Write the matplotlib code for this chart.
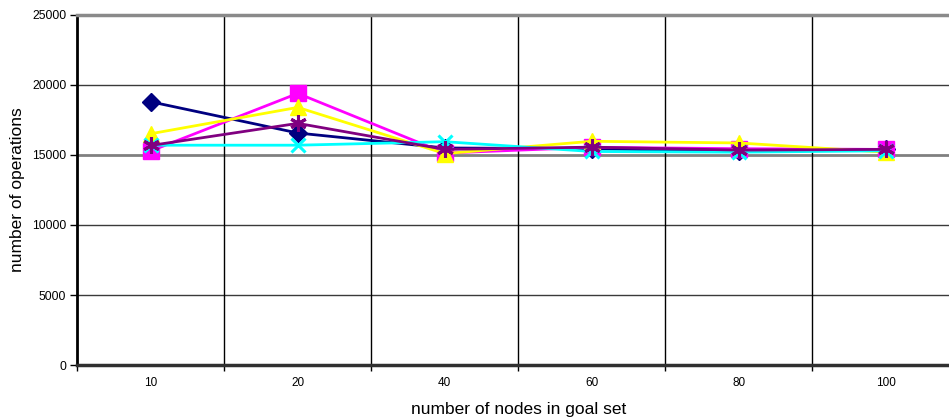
import numpy as np
import matplotlib.pyplot as plt

plt.rcParams['font.family'] = ['Liberation Sans', 'DejaVu Sans']

# goal set sizes (categories on the x axis)
nodes = ['10', '20', '40', '60', '80', '100']

# operation counts per run
run_a = [18800, 16570, 15500, 15450, 15250, 15400]   # navy diamonds
run_b = [15290, 19400, 15140, 15550, 15450, 15400]   # magenta squares
run_c = [16520, 18400, 15100, 15980, 15860, 15200]   # yellow triangles
run_d = [15700, 15700, 15950, 15250, 15200, 15300]   # cyan crosses
run_e = [15680, 17260, 15400, 15560, 15350, 15400]   # purple stars

x = np.arange(len(nodes))

fig = plt.figure(figsize=(9.49, 4.18), dpi=100)
ax = fig.add_axes([77.3 / 949, 53 / 418, 882 / 949, 350 / 418])

lw = 2
ax.plot(x, run_a, color='#000080', lw=lw, marker='D', ms=9, zorder=3)
ax.plot(x, run_b, color='#FF00FF', lw=lw, marker='s', ms=11, zorder=4)
ax.plot(x, run_c, color='#FFFF00', lw=lw, marker='^', ms=11, zorder=5)
ax.plot(x, run_d, color='#00FFFF', lw=lw, marker='x', ms=10, mew=2.2, zorder=6)
ax.plot(x, run_e, color='#800080', lw=lw, marker=(6, 2, 0), ms=12, mew=2.2, zorder=7)

ax.set_xlim(-0.5, len(nodes) - 0.5)
ax.set_ylim(0, 25000)
ax.set_yticks(np.arange(0, 25001, 5000))
ax.set_xticks(x)
ax.set_xticklabels(nodes)
ax.set_xticks(np.arange(-0.5, len(nodes), 1), minor=True)

ax.tick_params(axis='x', which='major', length=0, labelsize=8.5, pad=9)
ax.tick_params(axis='x', which='minor', length=4, width=1, color='black')
ax.tick_params(axis='y', length=5, width=1, color='black', labelsize=8.8, pad=3)

# horizontal grid at value ticks, vertical grid between categories
for v in range(5000, 25000, 5000):
    c, w = ('#808080', 2) if v == 15000 else ('#3a3a3a', 1)
    ax.axhline(v, color=c, lw=w, zorder=1)
for b in np.arange(0.5, len(nodes) - 0.5, 1):
    ax.axvline(b, color='black', lw=1, zorder=1)

ax.spines['right'].set_visible(False)
ax.spines['top'].set_color('#8a8a8a')
ax.spines['top'].set_linewidth(2.5)
ax.spines['left'].set_color('black')
ax.spines['left'].set_linewidth(2)
ax.spines['bottom'].set_color('#303030')
ax.spines['bottom'].set_linewidth(2.5)

ax.set_xlabel('number of nodes in goal set', fontsize=12.5, labelpad=9)
ax.set_ylabel('number of operations', fontsize=12.5, labelpad=5)

fig.savefig('out.png', dpi=100)
